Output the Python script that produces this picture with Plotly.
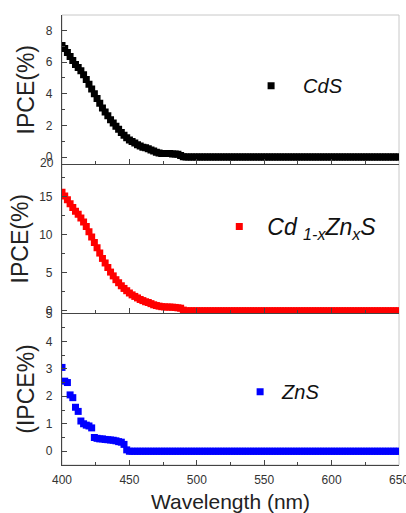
import plotly.graph_objects as go

# ---------------- data ----------------
wavelength = list(range(400, 652, 2))  # 400 ... 650 nm, 2 nm steps

cds_head = [7.05, 6.85, 6.6, 6.35, 6.1, 5.85, 5.65, 5.45, 5.2, 4.9,
            4.6, 4.3, 4.0, 3.7, 3.4, 3.1, 2.85, 2.6, 2.35, 2.15,
            1.95, 1.75, 1.55, 1.38, 1.22, 1.08, 0.98, 0.88, 0.78, 0.7,
            0.62, 0.58, 0.52, 0.45, 0.38, 0.3, 0.25, 0.22, 0.22, 0.22,
            0.22, 0.2, 0.2, 0.18, 0.1, 0.02]
cdzns_head = [15.6, 15.1, 14.6, 14.1, 13.6, 13.1, 12.7, 12.2, 11.7, 11.1,
              10.4, 9.7, 9.0, 8.3, 7.6, 6.9, 6.3, 5.7, 5.1, 4.6,
              4.1, 3.7, 3.3, 2.95, 2.65, 2.35, 2.1, 1.9, 1.7, 1.5,
              1.35, 1.2, 1.1, 0.95, 0.8, 0.7, 0.62, 0.55, 0.52, 0.5,
              0.5, 0.48, 0.45, 0.4, 0.35, 0.1]
zns_head = [3.05, 2.55, 2.5, 2.05, 1.95, 1.6, 1.45, 1.1, 1.0, 0.95,
            0.92, 0.85, 0.5, 0.47, 0.45, 0.45, 0.43, 0.42, 0.41, 0.4,
            0.38, 0.35, 0.33, 0.25, 0.05]

def pad_zero(head):
    # tail of the curves sits flat at 0 IPCE out to 650 nm
    return head + [0.0] * (len(wavelength) - len(head))

ipce_cds = pad_zero(cds_head)
ipce_cdzns = pad_zero(cdzns_head)
ipce_zns = pad_zero(zns_head)

series_names = ["CdS", "Cd <sub>1-x</sub>Zn<sub>x</sub>S", "ZnS"]
series_colors = ["#000000", "#ff0000", "#0000ff"]
y_titles = ["IPCE(%)", "IPCE(%)", "(IPCE%)"]
y_ranges = [[-0.47, 8.97], [-0.28, 19.25], [-0.5, 5.03]]
y_dticks = [2, 5, 1]
x_ticks = [400, 450, 500, 550, 600, 650]

FONT = "Liberation Sans, Arial, sans-serif"
AX = "#444444"

fig = go.Figure()

# panel domains (top to bottom)
domains = [[0.6678, 1.0], [0.3378, 0.6678], [0.0, 0.3378]]
legend_pos = [(0.5255, 0.843), (0.443, 0.53), (0.5226, 0.163)]
legend_itemw = [54, 46, 34]
legend_fsize = [20, 23, 20]
legend_keys = ["legend", "legend2", "legend3"]
values = [ipce_cds, ipce_cdzns, ipce_zns]

for i in range(3):
    fig.add_trace(go.Scatter(
        x=wavelength, y=values[i], mode="markers", name=series_names[i],
        marker=dict(symbol="square", size=7, color=series_colors[i], line=dict(width=0)),
        xaxis="x" if i == 0 else f"x{i+1}", yaxis="y" if i == 0 else f"y{i+1}",
        legend=legend_keys[i], showlegend=True,
    ))

layout = dict(
    width=406, height=513,
    margin=dict(l=62, r=7, t=15, b=48),
    paper_bgcolor="white", plot_bgcolor="white",
    font=dict(family=FONT, color="#333333", size=12),
)

for i in range(3):
    xk = "xaxis" if i == 0 else f"xaxis{i+1}"
    yk = "yaxis" if i == 0 else f"yaxis{i+1}"
    ya = "y" if i == 0 else f"y{i+1}"
    xa = "x" if i == 0 else f"x{i+1}"
    layout[xk] = dict(
        domain=[0, 1], anchor=ya, range=[399.99, 650.01], automargin=False,
        tickvals=x_ticks, showticklabels=(i == 2), ticklabeloverflow="allow",
        ticks="inside", ticklen=5, tickcolor=AX, tickwidth=1,
        minor=dict(ticks="inside", ticklen=3, tickcolor=AX, dtick=25, showgrid=False),
        showline=True, linecolor=AX, linewidth=1.2, showgrid=False, zeroline=False,
        tickfont=dict(size=12, color="#333333"), ticklabelstandoff=3,
    )
    if i == 2:
        layout[xk]["title"] = dict(text="Wavelength (nm)",
                                   font=dict(size=21, color="#222222"), standoff=22)
    else:
        layout[xk]["matches"] = "x3"
    layout[yk] = dict(
        domain=domains[i], anchor=xa, range=y_ranges[i], automargin=False,
        dtick=y_dticks[i], tick0=0,
        ticks="inside", ticklen=5, tickcolor=AX, tickwidth=1,
        minor=dict(ticks="inside", ticklen=3, tickcolor=AX, dtick=y_dticks[i] / 2, showgrid=False),
        showline=True, linecolor=AX, linewidth=1.2, showgrid=False, zeroline=False,
        tickfont=dict(size=12, color="#333333"), ticklabelstandoff=6,
        title=dict(text=y_titles[i], font=dict(size=23, color="#222222"), standoff=4),
    )
    lx, ly = legend_pos[i]
    layout[legend_keys[i]] = dict(
        x=lx, y=ly, xanchor="left", yanchor="middle",
        bgcolor="rgba(0,0,0,0)", borderwidth=0,
        font=dict(family=FONT, size=legend_fsize[i], color="#111111", style="italic"),
        itemwidth=legend_itemw[i],
    )

fig.update_layout(**layout)

# light frame (top / right edges of the stacked plot)
fig.add_shape(type="rect", xref="paper", yref="paper", x0=0, x1=1, y0=0, y1=1,
              line=dict(color="#c8c8c8", width=1), layer="below")

# top tick label of the middle panel that Origin prints at the panel border
fig.add_annotation(xref="paper", yref="paper", x=-0.018, y=domains[1][1] + 0.004,
                   xanchor="right", yanchor="middle", text="20", showarrow=False,
                   font=dict(size=12, color="#333333", family=FONT))

fig.write_html("out.html", config={"displayModeBar": False},
               post_script="document.body.style.margin='0';")
